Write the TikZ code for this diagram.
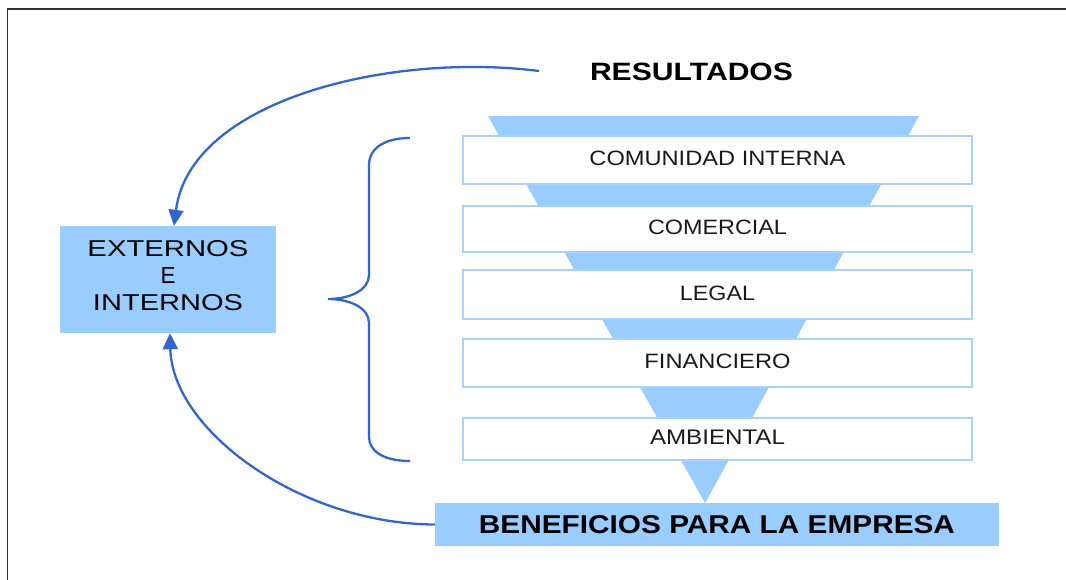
\documentclass[tikz,border=0pt]{standalone}
\usepackage{fontspec}
\setmainfont{Liberation Sans}
\usepackage{graphicx}
\usetikzlibrary{arrows.meta}
\definecolor{lblue}{HTML}{99CCFF}
\definecolor{rowline}{HTML}{A6D2FF}
\definecolor{curveblue}{HTML}{3366CC}
\definecolor{framegray}{HTML}{333333}
\definecolor{rowtext}{HTML}{1A1A1A}
\newcommand{\rsz}[3]{\resizebox{#1pt}{#2pt}{#3}}
\newcommand{\rowtxt}[3]{\raisebox{3.5pt}{\resizebox{#1pt}{#2pt}{#3}}}
\begin{document}
\begin{tikzpicture}[x=1pt,y=-1pt,
  rowbox/.style={draw=rowline, line width=1.2pt, fill=white, minimum width=509pt, inner sep=0pt, text=rowtext},
  fillbox/.style={fill=lblue, inner sep=0pt},
  conn/.style={draw=curveblue, line width=2.3pt},
  tipped/.style={-{Triangle[length=16pt,width=15pt]}}
]
\useasboundingbox (0,0) rectangle (1066,579);
\draw[framegray, line width=1.5pt] (7.5,600) -- (7.5,9) -- (1080,9);

% funnel
\fill[lblue] (488,116) -- (919,116) -- (705,503) -- cycle;

% rows
\node[rowbox, minimum height=48pt] (r1) at (717.5,160) {\rowtxt{256}{14.5}{COMUNIDAD INTERNA}};
\node[rowbox, minimum height=46pt] (r2) at (717.5,229) {\rowtxt{139}{14.5}{COMERCIAL}};
\node[rowbox, minimum height=49pt] (r3) at (717.5,294.5) {\rowtxt{75}{14.5}{LEGAL}};
\node[rowbox, minimum height=48pt] (r4) at (717.5,363) {\rowtxt{146}{14.5}{FINANCIERO}};
\node[rowbox, minimum height=42pt] (r5) at (717.5,439) {\rowtxt{135}{14.5}{AMBIENTAL}};

% bottom box
\node[fillbox, minimum width=564pt, minimum height=43pt] (ben) at (717,524.5)
  {\rsz{476}{18}{\bfseries BENEFICIOS PARA LA EMPRESA}};

% title
\node[inner sep=0pt] (res) at (691.5,72) {\rsz{203}{17.5}{\bfseries RESULTADOS}};

% left box
\node[fillbox, minimum width=216pt, minimum height=107pt] (ext) at (168,279.5) {};
\node[align=center, font=\fontsize{20}{27}\selectfont, inner sep=0pt] (extlbl) at (168,275.5)
  {\rsz{161}{16}{EXTERNOS}\\\rsz{15}{16}{E}\\\rsz{150}{16}{INTERNOS}};

% brace
\draw[conn] (410,138) .. controls (385,138) and (369,148) .. (369,165) -- (369,275)
  .. controls (369,290) and (350,299) .. (328,299)
  .. controls (350,299) and (369,308) .. (369,323) -- (369,437)
  .. controls (369,452) and (385,461) .. (410,461);

% arrows
\coordinate (s1) at (539,71);
\draw[conn, tipped] (s1) .. controls (390,52) and (190,100) .. ([xshift=6pt]ext.north);
\draw[conn, tipped] (ben.west) .. controls (300,524) and (172,430) .. ([xshift=2pt]ext.south);
\end{tikzpicture}
\end{document}
